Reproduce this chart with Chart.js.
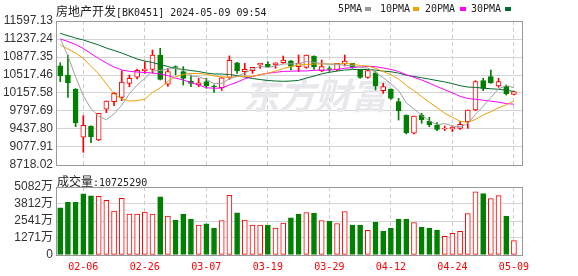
<!DOCTYPE html>
<html>
<head>
<meta charset="utf-8">
<script src="https://cdn.jsdelivr.net/npm/chart.js@4.4.1/dist/chart.umd.min.js"></script>
<style>
  body { margin: 0; background: #fff; }
  #wrap { position: relative; width: 578px; height: 276px; overflow: hidden; }
  canvas { position: absolute; left: 0; top: 0; }
  .txt { position: absolute; font: 10px "DejaVu Sans Mono", monospace; color: #222; white-space: nowrap; line-height: 12px; }
  .cjk { font: 12px "Noto Sans CJK SC", sans-serif; }
  .box { position: absolute; width: 6px; height: 4px; }
</style>
</head>
<body>
<div id="wrap">
  <canvas id="k" width="578" height="276"></canvas>
  <canvas id="v" width="578" height="276"></canvas>
  <div class="txt" style="left:56px;top:2px"><span class="cjk">房地产开发</span>[BK0451] 2024-05-09 09:54</div>
  <div class="txt" style="left:338px;top:3px">5PMA</div><div class="box" style="left:365px;top:7px;background:#999"></div>
  <div class="txt" style="left:380px;top:3px">10PMA</div><div class="box" style="left:413px;top:7px;background:#f0a000"></div>
  <div class="txt" style="left:425px;top:3px">20PMA</div><div class="box" style="left:460px;top:7px;background:#ff00ff"></div>
  <div class="txt" style="left:471px;top:3px">30PMA</div><div class="box" style="left:505px;top:7px;background:#006b2b"></div>
  <div class="txt" style="left:57px;top:172px"><span class="cjk">成交量</span>:10725290</div>
</div>
<script>
// trading days shown (60)
var days = ["02-01","02-02","02-05","02-06","02-07","02-08","02-19","02-20","02-21","02-22",
  "02-23","02-26","02-27","02-28","02-29","03-01","03-04","03-05","03-06","03-07",
  "03-08","03-11","03-12","03-13","03-14","03-15","03-18","03-19","03-20","03-21",
  "03-22","03-25","03-26","03-27","03-28","03-29","04-01","04-02","04-03","04-08",
  "04-09","04-10","04-11","04-12","04-15","04-16","04-17","04-18","04-19","04-22",
  "04-23","04-24","04-25","04-26","04-29","04-30","05-06","05-07","05-08","05-09"];
var tickDays = ["02-06","02-26","03-07","03-19","03-29","04-12","04-24","05-09"];

var opens = [10703,10517,10238,9272,9498,9218,9832,9984,10071,10351,
  10475,10603,10631,10917,10332,10684,10584,10397,10317,10384,
  10290,10265,10470,10763,10584,10604,10717,10731,10717,10763,
  10800,10684,10671,10897,10604,10645,10617,10737,10750,10620,
  10471,10563,10204,10237,9984,9718,9352,9718,9598,9518,
  9438,9440,9451,9584,9818,10404,10484,10297,10297,10131];
var highs = [10763,10917,10245,9704,9500,9752,10000,10172,10604,10517,
  10637,10783,11017,11051,10650,10700,10684,10517,10451,10451,
  10320,10470,10900,10770,10750,10671,10750,10784,10763,10897,
  10805,10917,10917,10900,10817,10684,10750,10917,10752,10625,
  10617,10584,10351,10240,10051,9720,9698,9751,9672,9564,
  9498,9498,9584,9818,10404,10451,10617,10451,10317,10197];
var lows = [10384,10071,9484,8972,9164,9204,9764,9904,10004,10284,
  10440,10551,10551,10417,10290,10520,10317,10284,10284,10251,
  10170,10210,10430,10551,10517,10551,10651,10671,10651,10750,
  10617,10584,10651,10631,10584,10590,10604,10697,10651,10451,
  10451,10217,10151,10031,9617,9338,9340,9551,9484,9404,
  9404,9384,9431,9451,9804,10204,10351,10271,10117,10117];
var closes = [10503,10363,9564,9512,9284,9752,9998,10152,10378,10451,
  10610,10637,10917,10431,10587,10670,10451,10351,10363,10297,
  10278,10460,10810,10604,10631,10671,10750,10684,10763,10817,
  10690,10750,10917,10684,10684,10630,10750,10797,10671,10471,
  10604,10297,10284,10051,9804,9364,9698,9618,9518,9431,
  9458,9470,9531,9818,10384,10251,10364,10384,10137,10184];

var ma5 = [11250,10900,10480,10100,9844,9694,9621,9740,9913,10146,
  10318,10446,10599,10609,10636,10648,10611,10498,10484,10426,
  10348,10350,10442,10490,10557,10635,10693,10668,10700,10737,
  10741,10741,10787,10772,10745,10733,10733,10709,10706,10664,
  10659,10568,10465,10341,10208,9960,9840,9707,9600,9526,
  9545,9499,9482,9542,9732,9891,10070,10240,10304,10264];
var ma10 = [11117,11037,10957,10850,10690,10540,10340,10140,10040,9995,
  10006,10033,10169,10261,10391,10483,10528,10548,10547,10531,
  10498,10481,10470,10487,10492,10492,10522,10555,10595,10647,
  10688,10717,10728,10736,10741,10737,10737,10748,10739,10704,
  10696,10651,10587,10524,10436,10309,10204,10086,9971,9867,
  9752,9670,9594,9571,9629,9718,9784,9861,9923,9998];
var ma20 = [11237,11187,11127,11047,10947,10847,10757,10677,10617,10591,
  10577,10567,10560,10537,10507,10457,10417,10367,10317,10263,
  10252,10257,10319,10374,10441,10487,10525,10552,10571,10589,
  10593,10599,10599,10611,10616,10614,10629,10652,10667,10676,
  10692,10684,10657,10630,10588,10523,10471,10417,10355,10286,
  10224,10160,10091,10047,10032,10014,9994,9974,9947,9933];
var ma30 = [11351,11303,11257,11217,11167,11117,11057,11007,10957,10897,
  10837,10797,10767,10727,10687,10647,10627,10607,10587,10557,
  10537,10537,10527,10507,10477,10447,10427,10407,10397,10391,
  10397,10410,10456,10495,10541,10571,10596,10617,10627,10628,
  10627,10616,10595,10582,10556,10513,10488,10463,10435,10406,
  10379,10346,10303,10277,10269,10255,10242,10232,10211,10190];

// volume in 万, and whether bar is drawn red (1) or green (0)
var volume = [3522,3943,3943,4563,4414,4390,4092,3274,4241,3050,
  3050,3199,3050,4340,2902,2604,3050,2678,2232,2331,
  2009,2579,4464,3150,2604,2232,2232,2232,2009,2381,
  2778,3050,3174,3125,2579,2530,2356,3249,2232,2232,
  1835,2455,1786,2009,2678,2678,2430,2083,2009,1860,
  1389,1612,1761,3100,4712,4588,4216,4439,2902,1073];
var volUp = [0,0,0,0,0,1,1,1,1,1,
  1,1,1,0,1,0,0,0,1,0,
  0,1,1,0,1,1,1,0,1,1,
  0,0,1,0,1,0,1,1,0,0,
  1,0,0,0,0,0,1,0,0,0,
  1,1,1,1,1,0,1,1,0,1];

var priceTicks = [11597.13,11237.24,10877.35,10517.46,10157.58,9797.69,9437.80,9077.91,8718.02];
var volTicks = [5082,3812,2541,1271,0];

var RED = "#ff0000", GREEN = "#008000";
var tickPos = tickDays.map(function (d) { return days.indexOf(d); });
var up = closes.map(function (c, i) { return c >= opens[i]; });
var axisFont = { family: '"Liberation Sans","Noto Sans CJK SC",sans-serif', size: 12 };

function pts(arr) {
  return arr.map(function (v, i) { return { x: i, y: v }; });
}
function maLine(arr, color) {
  return { type: "line", data: pts(arr), borderColor: color, borderWidth: 1,
    pointRadius: 0, tension: 0, order: 0 };
}

// grey box round the plot area
var frame = {
  id: "frame",
  afterDraw: function (c) {
    var ctx = c.ctx, a = c.chartArea;
    ctx.save();
    ctx.strokeStyle = "#999";
    ctx.lineWidth = 1;
    ctx.strokeRect(Math.round(a.left) + 0.5, Math.round(a.top) + 0.5,
      Math.round(a.right - a.left), Math.round(a.bottom - a.top));
    ctx.restore();
  }
};
var watermark = {
  id: "watermark",
  beforeDatasetsDraw: function (c) {
    var ctx = c.ctx;
    ctx.save();
    ctx.fillStyle = "#e8e8ec";
    ctx.font = 'italic bold 36px "Noto Sans CJK SC"';
    ctx.textBaseline = "alphabetic";
    ctx.fillText("东方财富", 243, 109);
    ctx.restore();
  }
};

var xBase = {
  type: "linear", min: -0.55, max: 60.05, offset: false,
  afterBuildTicks: function (s) { s.ticks = tickPos.map(function (v) { return { value: v }; }); },
  grid: { color: "#cccccc", drawTicks: false, offset: false },
  border: { display: false, dash: [4, 3] }
};

new Chart(document.getElementById("k"), {
  type: "bar",
  data: {
    datasets: [
      maLine(ma5, "#a0a0a0"),
      maLine(ma10, "#f0a000"),
      maLine(ma20, "#ff00ff"),
      maLine(ma30, "#006b2b"),
      {
        label: "body",
        data: closes.map(function (c, i) { return { x: i, y: [opens[i], c] }; }),
        backgroundColor: function (ctx) { return up[ctx.dataIndex] ? "#ffffff" : GREEN; },
        borderColor: function (ctx) { return up[ctx.dataIndex] ? RED : GREEN; },
        borderWidth: 1, borderSkipped: false, barThickness: 5, grouped: false, order: 2
      },
      {
        label: "wick",
        data: lows.map(function (l, i) { return { x: i, y: [l, highs[i]] }; }),
        backgroundColor: function (ctx) { return up[ctx.dataIndex] ? RED : GREEN; },
        barThickness: 1, grouped: false, order: 3
      }
    ]
  },
  options: {
    responsive: false, animation: false,
    layout: { padding: { left: 0, right: 56, top: 21, bottom: 111 }, autoPadding: false },
    plugins: { legend: { display: false }, tooltip: { enabled: false } },
    scales: {
      x: Object.assign({}, xBase, {
        ticks: { display: false },
        afterFit: function (s) { s.height = 0; }
      }),
      y: {
        min: 8718.02, max: 11597.13,
        afterBuildTicks: function (s) { s.ticks = priceTicks.map(function (v) { return { value: v }; }); },
        ticks: { callback: function (v) { return v.toFixed(2); }, color: "#333", font: axisFont, padding: 3, autoSkip: false },
        grid: { color: "#d4d4d4", drawTicks: false },
        border: { display: false },
        afterFit: function (s) { s.width = 56; }
      }
    }
  },
  plugins: [watermark, frame]
});

new Chart(document.getElementById("v"), {
  type: "bar",
  data: {
    datasets: [{
      data: pts(volume),
      backgroundColor: function (ctx) { return volUp[ctx.dataIndex] ? "#ffffff" : GREEN; },
      borderColor: function (ctx) { return volUp[ctx.dataIndex] ? RED : GREEN; },
      borderWidth: 1, borderSkipped: false, barThickness: 5, grouped: false
    }]
  },
  options: {
    responsive: false, animation: false,
    layout: { padding: { left: 0, right: 56, top: 187, bottom: 0 }, autoPadding: false },
    plugins: { legend: { display: false }, tooltip: { enabled: false } },
    scales: {
      x: Object.assign({}, xBase, {
        ticks: {
          callback: function (v) { return days[v]; },
          color: RED, font: { family: '"DejaVu Sans Mono",monospace', size: 10 },
          padding: 6, maxRotation: 0, autoSkip: false
        },
        afterFit: function (s) { s.height = 21; }
      }),
      y: {
        min: 0, max: 5082,
        afterBuildTicks: function (s) { s.ticks = volTicks.map(function (v) { return { value: v }; }); },
        ticks: { callback: function (v) { return v === 0 ? "0" : v + "万"; }, color: "#333", font: axisFont, padding: 3, autoSkip: false },
        grid: { color: "#d4d4d4", drawTicks: false },
        border: { display: false },
        afterFit: function (s) { s.width = 56; }
      }
    }
  },
  plugins: [frame]
});
</script>
</body>
</html>
